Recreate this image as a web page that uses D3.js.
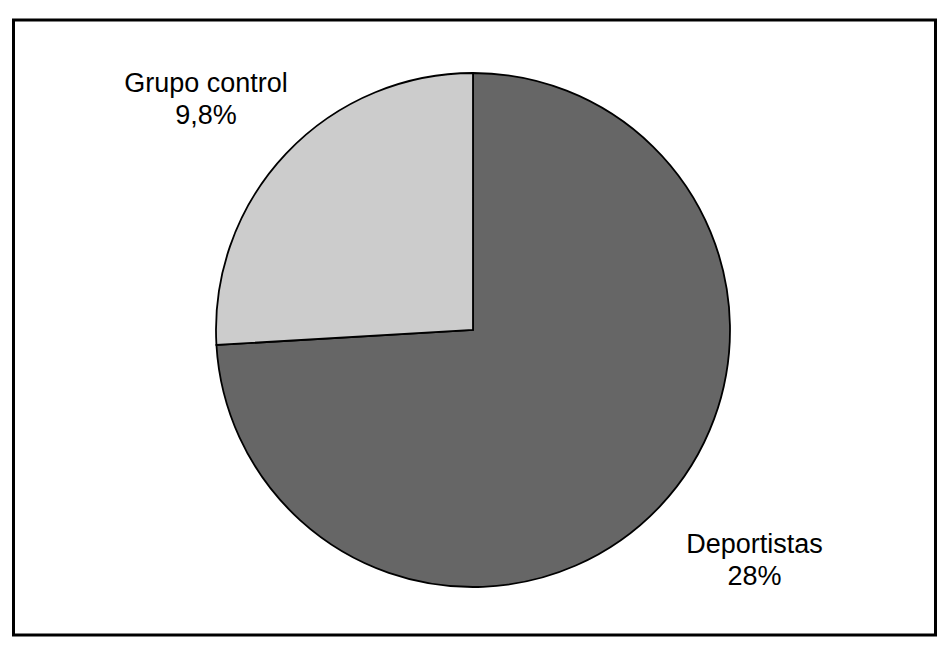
<!DOCTYPE html>
<html><head><meta charset="utf-8">
<script src="https://cdn.jsdelivr.net/npm/d3@7"></script>
<style>body{margin:0;background:#fff}svg{display:block}</style>
</head><body>
<script>
const categories = ["Deportistas", "Grupo control"];
const values = [28, 9.8];
const valueLabels = ["28%", "9,8%"];
const colors = ["#666666", "#cccccc"];

const W = 944, H = 652;
const svg = d3.select("body").append("svg").attr("width", W).attr("height", H);
svg.append("rect").attr("x", 13.5).attr("y", 20).attr("width", 922).attr("height", 615)
  .attr("fill", "#fff").attr("stroke", "#000").attr("stroke-width", 3);

const cx = 473, cy = 330, r = 257;
const pie = d3.pie().sort(null).value(d => d)(values);
const arc = d3.arc().innerRadius(0).outerRadius(r);
const g = svg.append("g").attr("transform", `translate(${cx},${cy})`);
g.selectAll("path").data(pie).join("path")
  .attr("d", arc).attr("fill", (d, i) => colors[i])
  .attr("stroke", "#000").attr("stroke-width", 1.8).attr("stroke-linejoin", "miter");

const labelPos = [[754.5, 553], [206, 92]];
const lab = svg.append("g").attr("font-family", "Liberation Sans, Arial, sans-serif")
  .attr("font-size", 27).attr("text-anchor", "middle").attr("fill", "#000");
categories.forEach((c, i) => {
  const t = lab.append("text").attr("x", labelPos[i][0]).attr("y", labelPos[i][1]);
  t.append("tspan").attr("x", labelPos[i][0]).text(c);
  t.append("tspan").attr("x", labelPos[i][0]).attr("dy", 31.5).text(valueLabels[i]);
});
</script>
</body></html>
